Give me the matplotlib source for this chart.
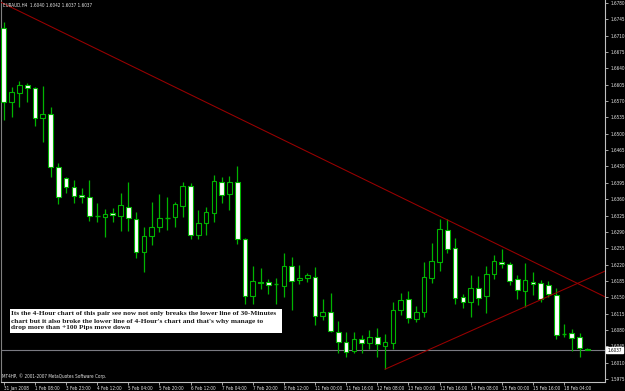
import matplotlib
matplotlib.use("Agg")
import matplotlib.pyplot as plt
from matplotlib.patches import Rectangle
from matplotlib.transforms import blended_transform_factory

# ---------------- data ----------------
header_text = "EURAUD,H4  1.6040 1.6042 1.6037 1.6037"
copyright_text = "MT4HP, \u00a9 2001-2007 MetaQuotes Software Corp."
note_lines = [
    "Its the 4-Hour chart of this pair see now not only breaks the lower line of 30-Minutes",
    "chart but it also broke the lower line of 4-Hour's chart and that's why manage to",
    "drop more than +100 Pips move down",
]

opens = [1.6727, 1.6568, 1.6587, 1.6604, 1.6598, 1.6534, 1.6542, 1.6429, 1.6405, 1.6386,
         1.6369, 1.6365, 1.6324, 1.6322, 1.6330, 1.6324, 1.6343, 1.6318, 1.6247, 1.6281,
         1.6300, 1.6320, 1.6322, 1.6345, 1.6388, 1.6283, 1.6309, 1.6330, 1.6397, 1.6371,
         1.6397, 1.6275, 1.6153, 1.6183, 1.6183, 1.6178, 1.6174, 1.6217, 1.6187, 1.6191,
         1.6193, 1.6110, 1.6118, 1.6076, 1.6054, 1.6035, 1.6061, 1.6052, 1.6065, 1.6046,
         1.6052, 1.6123, 1.6146, 1.6103, 1.6118, 1.6191, 1.6226, 1.6294, 1.6255, 1.6151,
         1.6140, 1.6170, 1.6153, 1.6200, 1.6226, 1.6221, 1.6189, 1.6163, 1.6183, 1.6181,
         1.6176, 1.6155, 1.6071, 1.6074, 1.6065, 1.6040]
highs = [1.6739, 1.6600, 1.6613, 1.6609, 1.6600, 1.6602, 1.6557, 1.6437, 1.6407, 1.6401,
         1.6384, 1.6401, 1.6352, 1.6339, 1.6341, 1.6373, 1.6397, 1.6333, 1.6300, 1.6354,
         1.6371, 1.6365, 1.6354, 1.6397, 1.6395, 1.6337, 1.6343, 1.6412, 1.6407, 1.6410,
         1.6431, 1.6277, 1.6217, 1.6213, 1.6189, 1.6191, 1.6245, 1.6236, 1.6219, 1.6202,
         1.6215, 1.6146, 1.6159, 1.6099, 1.6076, 1.6076, 1.6069, 1.6080, 1.6084, 1.6071,
         1.6140, 1.6159, 1.6163, 1.6131, 1.6226, 1.6266, 1.6318, 1.6318, 1.6277, 1.6157,
         1.6198, 1.6196, 1.6217, 1.6241, 1.6253, 1.6226, 1.6198, 1.6223, 1.6204, 1.6187,
         1.6185, 1.6170, 1.6093, 1.6082, 1.6074, 1.6042]
lows = [1.6530, 1.6536, 1.6557, 1.6568, 1.6517, 1.6482, 1.6407, 1.6350, 1.6373, 1.6352,
        1.6352, 1.6313, 1.6311, 1.6279, 1.6311, 1.6292, 1.6292, 1.6234, 1.6204, 1.6262,
        1.6290, 1.6294, 1.6300, 1.6322, 1.6275, 1.6275, 1.6283, 1.6311, 1.6352, 1.6337,
        1.6264, 1.6136, 1.6136, 1.6168, 1.6157, 1.6136, 1.6151, 1.6123, 1.6178, 1.6183,
        1.6091, 1.6101, 1.6076, 1.6031, 1.6022, 1.6031, 1.6031, 1.6039, 1.6022, 1.5996,
        1.6039, 1.6112, 1.6095, 1.6097, 1.6108, 1.6181, 1.6206, 1.6245, 1.6136, 1.6127,
        1.6108, 1.6133, 1.6116, 1.6189, 1.6213, 1.6176, 1.6146, 1.6129, 1.6155, 1.6140,
        1.6151, 1.6061, 1.6065, 1.6035, 1.6022, 1.6037]
closes = [1.6568, 1.6589, 1.6604, 1.6598, 1.6534, 1.6542, 1.6429, 1.6365, 1.6386, 1.6367,
          1.6365, 1.6324, 1.6324, 1.6328, 1.6326, 1.6348, 1.6320, 1.6247, 1.6281, 1.6300,
          1.6320, 1.6320, 1.6350, 1.6388, 1.6283, 1.6309, 1.6333, 1.6399, 1.6369, 1.6397,
          1.6275, 1.6153, 1.6185, 1.6181, 1.6176, 1.6178, 1.6217, 1.6185, 1.6191, 1.6198,
          1.6110, 1.6118, 1.6078, 1.6054, 1.6033, 1.6061, 1.6052, 1.6065, 1.6050, 1.6054,
          1.6123, 1.6144, 1.6106, 1.6118, 1.6193, 1.6228, 1.6296, 1.6253, 1.6148, 1.6140,
          1.6170, 1.6148, 1.6200, 1.6228, 1.6221, 1.6185, 1.6166, 1.6187, 1.6178, 1.6146,
          1.6157, 1.6069, 1.6071, 1.6063, 1.6041, 1.6037]

time_labels = ["31 Jan 2008", "1 Feb 08:00", "3 Feb 23:00", "4 Feb 12:00", "5 Feb 04:00",
               "5 Feb 20:00", "6 Feb 12:00", "7 Feb 04:00", "7 Feb 20:00", "8 Feb 12:00",
               "11 Feb 00:00", "11 Feb 16:00", "12 Feb 08:00", "13 Feb 00:00", "13 Feb 16:00",
               "14 Feb 08:00", "15 Feb 00:00", "15 Feb 16:00", "18 Feb 04:00"]
label_every = 4

price_ticks = [1.5975, 1.6010, 1.6045, 1.6080, 1.6115, 1.6150, 1.6185, 1.6220, 1.6255,
               1.6290, 1.6325, 1.6360, 1.6395, 1.6430, 1.6465, 1.6500, 1.6535, 1.6570,
               1.6605, 1.6640, 1.6675, 1.6710, 1.6745, 1.6780]
bid_price = 1.6037

trend_down_x = [-0.3, 77.27]
trend_down_y = [1.6781, 1.6151]
trend_up_x = [49, 77.27]
trend_up_y = [1.5996, 1.6206]

x_range = (-0.3, 77.27)
y_range = (1.59697, 1.67864)

# ---------------- style ----------------
plt.rcParams["font.family"] = ["DejaVu Sans"]
plt.rcParams["font.stretch"] = "condensed"

W, H = 625, 391
BG = "#000000"
GREEN = "#00b400"
AXIS = "#c0c0c0"
LABEL = "#e6e6e6"
RED = "#9a0000"
FS = 3.3

fig = plt.figure(figsize=(W / 100, H / 100), dpi=100, facecolor=BG)
ax = fig.add_axes([1.5 / W, 9.5 / H, 603.5 / W, 381.5 / H], facecolor=BG)
ax.set_xlim(*x_range)
ax.set_ylim(*y_range)

body_w = 0.6
for i, (o, h, l, c) in enumerate(zip(opens, highs, lows, closes)):
    ax.vlines(i, l, h, color=GREEN, lw=0.9, zorder=2)
    if abs(c - o) < 0.00006:
        ax.hlines(o, i - body_w / 2, i + body_w / 2, color=GREEN, lw=1.0, zorder=3)
    else:
        face = "#ffffff" if c < o else BG
        ax.bar(i, abs(c - o), bottom=min(o, c), width=body_w, color=face,
               edgecolor=GREEN, linewidth=0.8, zorder=3)

ax.plot(trend_down_x, trend_down_y, color=RED, lw=0.75, zorder=4)
ax.plot(trend_up_x, trend_up_y, color=RED, lw=0.75, zorder=4)
ax.axhline(bid_price, color="#7a7a82", lw=0.8, zorder=1)

ax.spines["top"].set_visible(False)
for s in ["right", "bottom", "left"]:
    ax.spines[s].set_color(AXIS)
    ax.spines[s].set_linewidth(0.8)
ax.spines["left"].set_color("#808080")

ax.yaxis.tick_right()
ax.set_yticks(price_ticks)
ax.set_yticklabels([f"{p:.4f}" for p in price_ticks])
ax.tick_params(axis="y", colors=AXIS, labelcolor=LABEL, length=2.5, width=0.6,
               pad=1.2, labelsize=FS)

xt = list(range(0, label_every * len(time_labels), label_every))
ax.set_xticks(xt)
ax.set_xticklabels(time_labels)
ax.tick_params(axis="x", colors=AXIS, labelcolor=LABEL, length=2.5, width=0.6,
               pad=0.8, labelsize=FS)
for t in ax.get_xticklabels():
    t.set_horizontalalignment("left")

# current price box
tr = blended_transform_factory(ax.transAxes, ax.transData)
ax.text(1.004, bid_price, f"{bid_price:.4f}", transform=tr, ha="left", va="center",
        fontsize=FS, color="#000000", zorder=6, clip_on=False,
        bbox=dict(boxstyle="square,pad=0.2", facecolor="#ffffff", edgecolor="#ffffff"))

fig.text(3 / W, 1 - 5 / H, header_text, ha="left", va="center", fontsize=FS, color=LABEL)
fig.text(2 / W, 1 - 376 / H, copyright_text, ha="left", va="center", fontsize=FS, color=LABEL)

# annotation box
fig.add_artist(Rectangle((10 / W, 1 - 333 / H), 272 / W, 24 / H, transform=fig.transFigure,
                         facecolor="#ffffff", edgecolor="none", zorder=5))
for k, line in enumerate(note_lines):
    fig.text(11 / W, 1 - (314 + 7 * k) / H, line, ha="left", va="center", fontsize=5.3,
             family="Liberation Serif", weight="bold", stretch="normal",
             color="#1a1a1a", zorder=6)

fig.savefig("out.png", dpi=100, facecolor=BG)
